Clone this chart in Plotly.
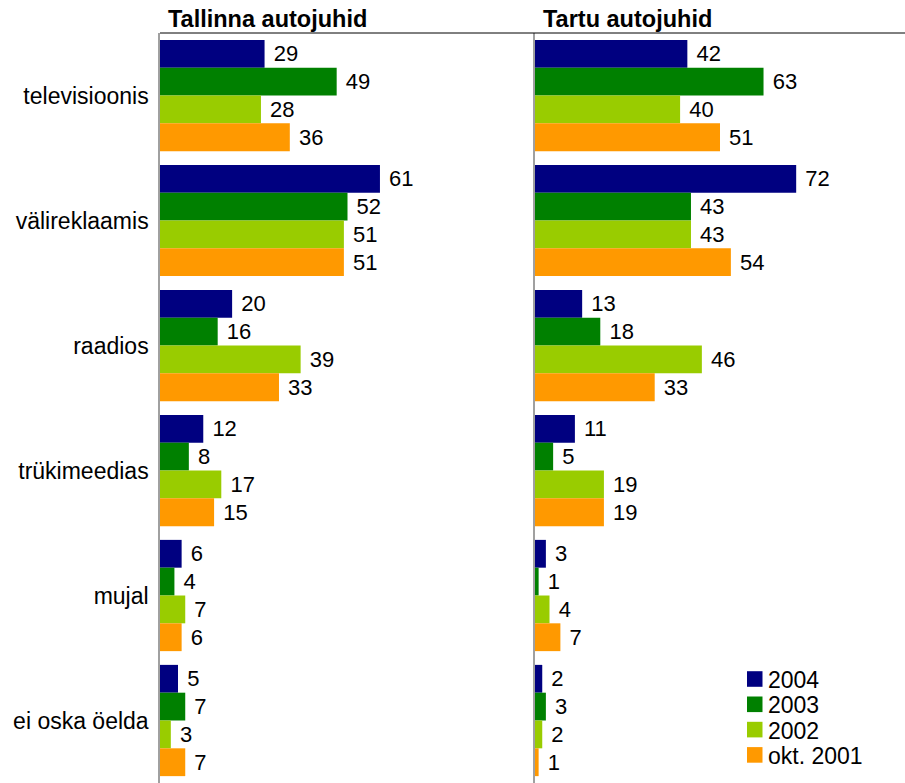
import plotly.graph_objects as go

categories = ["televisioonis", "välireklaamis", "raadios", "trükimeedias", "mujal", "ei oska öelda"]
series_names = ["2004", "2003", "2002", "okt. 2001"]
colors = ["#000080", "#008000", "#99CC00", "#FF9900"]

tallinn = {
    "2004": [29, 61, 20, 12, 6, 5],
    "2003": [49, 52, 16, 8, 4, 7],
    "2002": [28, 51, 39, 17, 7, 3],
    "okt. 2001": [36, 51, 33, 15, 6, 7],
}
tartu = {
    "2004": [42, 72, 13, 11, 3, 2],
    "2003": [63, 43, 18, 5, 1, 3],
    "2002": [40, 43, 46, 19, 4, 2],
    "okt. 2001": [51, 54, 33, 19, 7, 1],
}
titles = ["Tallinna autojuhid", "Tartu autojuhid"]

FONT = "Liberation Sans, Arial, sans-serif"
FS = 22
FS_CAT = 23
W, H = 905, 783
ML, MT = 160, 33
PW, PH = W - ML, H - MT

fig = go.Figure()
for data, xa, ya in [(tallinn, "x", "y"), (tartu, "x2", "y2")]:
    for i, name in enumerate(series_names):
        fig.add_trace(go.Bar(
            y=categories, x=data[name], orientation="h", name=name,
            marker=dict(color=colors[i], line=dict(width=0)),
            texttemplate="\u00a0%{x}", textposition="outside", cliponaxis=False,
            textfont=dict(size=FS, color="black", family=FONT),
            xaxis=xa, yaxis=ya, showlegend=False,
        ))

split = 375 / PW
fig.update_layout(
    width=W, height=H,
    margin=dict(l=ML, r=0, t=MT, b=0),
    paper_bgcolor="white", plot_bgcolor="white",
    font=dict(family=FONT, size=FS, color="black"),
    barmode="group", bargap=0.11, bargroupgap=0,
    showlegend=False,
    xaxis=dict(domain=[0, split], range=[0, 104], showgrid=False, zeroline=False,
               showticklabels=False, showline=False),
    xaxis2=dict(domain=[split, 1], range=[0, 102], showgrid=False, zeroline=False,
                showticklabels=False, showline=False),
    yaxis=dict(categoryorder="array", categoryarray=categories, autorange="reversed",
               showline=True, linecolor="#a0a0a0", linewidth=1.5, showgrid=False,
               ticks="", ticklabelstandoff=5, anchor="x",
               tickfont=dict(size=FS_CAT, family=FONT)),
    yaxis2=dict(categoryorder="array", categoryarray=categories, autorange="reversed",
                showline=True, linecolor="#a0a0a0", linewidth=1.5, showgrid=False,
                showticklabels=False, ticks="", anchor="x2", matches="y"),
)
fig.add_shape(type="line", xref="paper", yref="paper", x0=0, x1=1, y0=1, y1=1,
              line=dict(color="black", width=1))
for j, t in enumerate(titles):
    fig.add_annotation(text="<b>" + t + "</b>", xref="paper", yref="paper",
                       x=[0, split][j] + 6 / PW, y=1, xanchor="left", yanchor="bottom",
                       yshift=-1, showarrow=False, font=dict(size=23.5, family=FONT))

# manual legend (square + label), positioned in paper coordinates
def px2x(px):
    return (px - ML) / PW

def py2y(py):
    return 1 - (py - MT) / PH

for i, name in enumerate(series_names):
    cy = 679 + 25.3 * i
    fig.add_shape(type="rect", xref="paper", yref="paper",
                  x0=px2x(747), x1=px2x(762.5), y0=py2y(cy - 7.8), y1=py2y(cy + 7.8),
                  fillcolor=colors[i], line=dict(width=0))
    fig.add_annotation(text=name, xref="paper", yref="paper",
                       x=px2x(766), y=py2y(cy + 1), xanchor="left", yanchor="middle",
                       showarrow=False, font=dict(size=23, family=FONT, color="black"))

fig.write_html("out.html", config={"displayModeBar": False},
               post_script="document.body.style.margin='0';document.body.style.overflow='hidden';")
